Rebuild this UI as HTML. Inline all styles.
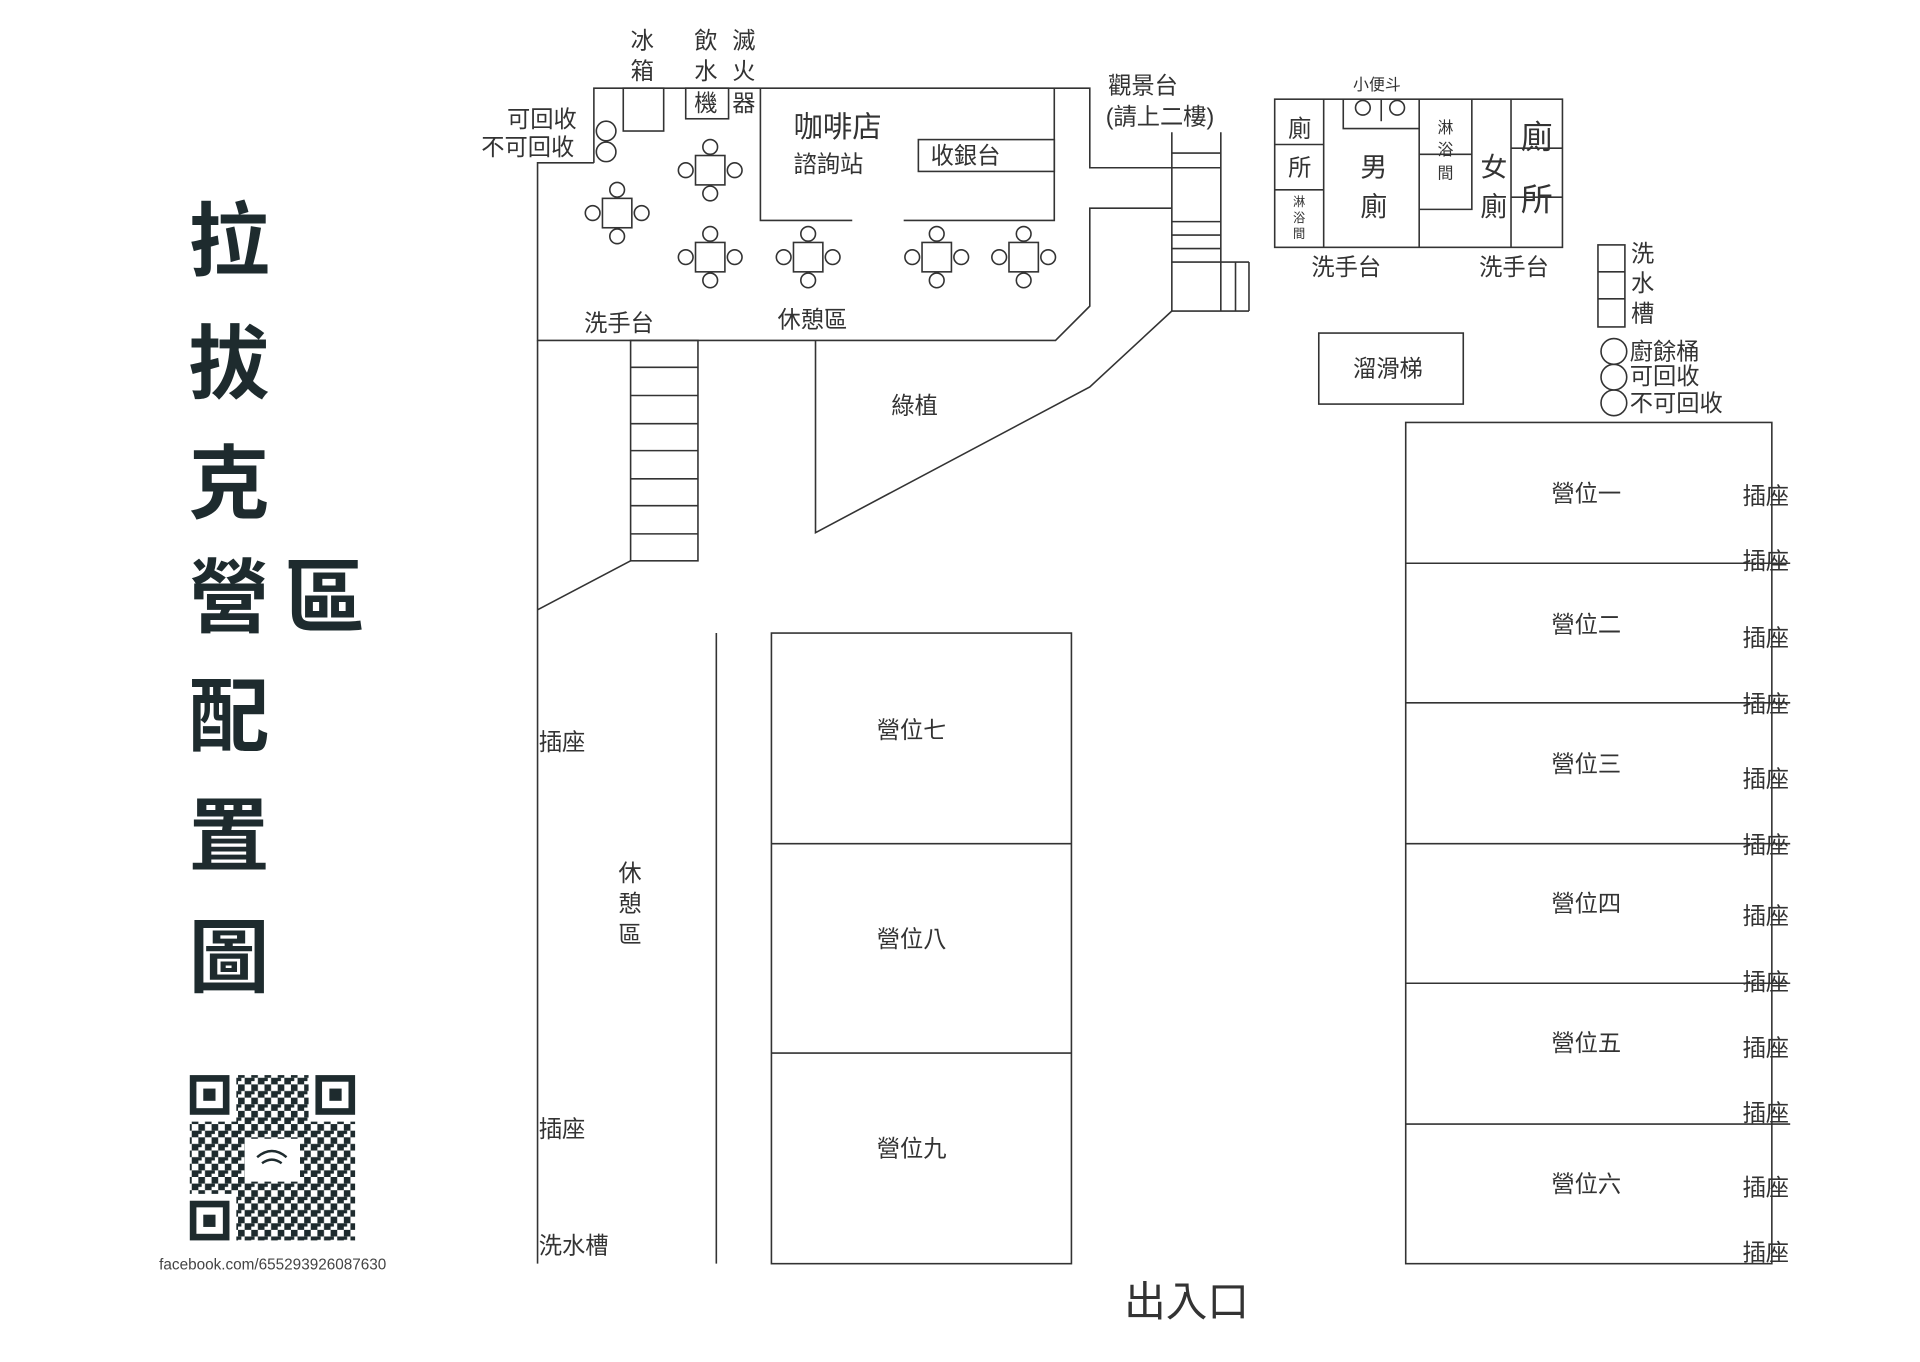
<!DOCTYPE html>
<html><head><meta charset="utf-8"><style>
html,body{margin:0;padding:0;background:#fff;}
svg{display:block}
text{font-family:"Liberation Sans","Noto Sans CJK TC",sans-serif;fill:#333;dominant-baseline:central;}
.t{font-family:"WenQuanYi Zen Hei","Noto Sans CJK TC",sans-serif;font-weight:bold;fill:#1e2b2e;font-size:66px;text-anchor:middle}
</style></head><body>
<svg width="1920" height="1362" viewBox="0 0 1568 1112.3" preserveAspectRatio="none" xmlns="http://www.w3.org/2000/svg">
<defs>
<pattern id="qr" width="10.8" height="10.8" patternUnits="userSpaceOnUse">
<rect x="0" y="0" width="5.4" height="5.4" fill="#1e2b2e"/><rect x="5.4" y="5.4" width="5.4" height="5.4" fill="#1e2b2e"/><rect x="0" y="5.4" width="2.7" height="2.7" fill="#1e2b2e"/>
</pattern>
</defs>
<!-- title -->
<text class="t" x="187" y="192">拉</text>
<text class="t" x="187" y="292">拔</text>
<text class="t" x="187" y="390">克</text>
<text class="t" x="187" y="483">營</text>
<text class="t" x="265" y="483">區</text>
<text class="t" x="187" y="580">配</text>
<text class="t" x="187" y="678">置</text>
<text class="t" x="187" y="777">圖</text>
<!-- QR -->
<rect x="155" y="878" width="135" height="135" fill="url(#qr)"/>
<g fill="#fff"><rect x="153" y="876" width="40" height="40"/><rect x="252" y="876" width="40" height="40"/><rect x="153" y="975" width="40" height="40"/><rect x="200" y="930" width="45" height="35"/></g>
<g fill="none" stroke="#1e2b2e" stroke-width="5.4"><rect x="157.7" y="880.7" width="27" height="27"/><rect x="260.3" y="880.7" width="27" height="27"/><rect x="157.7" y="983.3" width="27" height="27"/></g>
<g fill="#1e2b2e"><rect x="166" y="889" width="10" height="10"/><rect x="269" y="889" width="10" height="10"/><rect x="166" y="992" width="10" height="10"/></g>
<path d="M210 945 q12 -10 24 0 M214 950 q8 -6 16 0" stroke="#1e2b2e" stroke-width="2" fill="none"/>
<text x="130" y="1033" style="font-size:12.5px;fill:#444">facebook.com/655293926087630</text>

<g stroke="#333" stroke-width="1.3" fill="none">
<!-- building outline -->
<polyline points="485,133 485,72 890,72 890,137 997,137"/>
<polyline points="485,133 439,133 439,278 862,278 890,250 890,170 957,170"/>
<line x1="957" y1="108" x2="957" y2="254"/><line x1="997" y1="108" x2="997" y2="254"/>
<line x1="957" y1="125" x2="997" y2="125"/>
<line x1="957" y1="181" x2="997" y2="181"/><line x1="957" y1="192" x2="997" y2="192"/><line x1="957" y1="203" x2="997" y2="203"/><line x1="957" y1="214" x2="1020" y2="214"/>
<line x1="957" y1="254" x2="1020" y2="254"/><line x1="1020" y1="214" x2="1020" y2="254"/><line x1="1009" y1="214" x2="1009" y2="254"/>
<polyline points="957,254 890,316 666,435 666,278"/>
<!-- coffee shop -->
<polyline points="621,72 621,180 696,180"/><polyline points="738,180 861,180 861,72"/>
<rect x="750" y="114" width="111" height="26"/>
<rect x="560" y="72" width="35" height="25"/>
<rect x="509" y="72" width="33" height="35"/>
<circle cx="495" cy="107" r="8"/><circle cx="495" cy="124" r="8"/>
<!-- stairs -->
<rect x="515" y="278" width="55" height="180"/>
<line x1="515" y1="300" x2="570" y2="300"/><line x1="515" y1="323" x2="570" y2="323"/><line x1="515" y1="346" x2="570" y2="346"/><line x1="515" y1="368" x2="570" y2="368"/><line x1="515" y1="391" x2="570" y2="391"/><line x1="515" y1="413" x2="570" y2="413"/><line x1="515" y1="436" x2="570" y2="436"/>
<line x1="515" y1="458" x2="439" y2="498"/>
<line x1="439" y1="278" x2="439" y2="1032"/>
<line x1="585" y1="517" x2="585" y2="1032"/>
<!-- middle sites -->
<rect x="630" y="517" width="245" height="515"/>
<line x1="630" y1="689" x2="875" y2="689"/><line x1="630" y1="860" x2="875" y2="860"/>
<!-- right sites -->
<rect x="1148" y="345" width="299" height="687"/>
<line x1="1148" y1="460" x2="1462" y2="460"/><line x1="1148" y1="574" x2="1462" y2="574"/><line x1="1148" y1="689" x2="1462" y2="689"/><line x1="1148" y1="803" x2="1462" y2="803"/><line x1="1148" y1="918" x2="1462" y2="918"/>
<!-- toilets -->
<rect x="1041" y="81" width="235" height="121"/>
<line x1="1081" y1="81" x2="1081" y2="202"/><line x1="1041" y1="118" x2="1081" y2="118"/><line x1="1041" y1="155" x2="1081" y2="155"/>
<polyline points="1097,81 1097,105 1159,105"/>
<circle cx="1113" cy="88" r="6"/><circle cx="1141" cy="88" r="6"/><line x1="1128" y1="81" x2="1128" y2="99"/>
<line x1="1159" y1="81" x2="1159" y2="202"/>
<polyline points="1202,81 1202,171 1159,171"/><line x1="1159" y1="126" x2="1202" y2="126"/>
<line x1="1234" y1="81" x2="1234" y2="202"/><line x1="1234" y1="121" x2="1276" y2="121"/><line x1="1234" y1="161" x2="1276" y2="161"/>
<!-- sink -->
<rect x="1305" y="200" width="22" height="67"/><line x1="1305" y1="222" x2="1327" y2="222"/><line x1="1305" y1="244" x2="1327" y2="244"/>
<circle cx="1318" cy="287" r="10.5"/><circle cx="1318" cy="308" r="10.5"/><circle cx="1318" cy="329" r="10.5"/>
<rect x="1077" y="272" width="118" height="58"/>
</g>
<!-- tables -->
<g stroke="#333" stroke-width="1.3" fill="#fff" id="tb">
<g transform="translate(580,139)"><rect x="-12" y="-12" width="24" height="24"/><circle cx="0" cy="-19" r="6"/><circle cx="0" cy="19" r="6"/><circle cx="-20" cy="0" r="6"/><circle cx="20" cy="0" r="6"/></g>
<g transform="translate(504,174)"><rect x="-12" y="-12" width="24" height="24"/><circle cx="0" cy="-19" r="6"/><circle cx="0" cy="19" r="6"/><circle cx="-20" cy="0" r="6"/><circle cx="20" cy="0" r="6"/></g>
<g transform="translate(580,210)"><rect x="-12" y="-12" width="24" height="24"/><circle cx="0" cy="-19" r="6"/><circle cx="0" cy="19" r="6"/><circle cx="-20" cy="0" r="6"/><circle cx="20" cy="0" r="6"/></g>
<g transform="translate(660,210)"><rect x="-12" y="-12" width="24" height="24"/><circle cx="0" cy="-19" r="6"/><circle cx="0" cy="19" r="6"/><circle cx="-20" cy="0" r="6"/><circle cx="20" cy="0" r="6"/></g>
<g transform="translate(765,210)"><rect x="-12" y="-12" width="24" height="24"/><circle cx="0" cy="-19" r="6"/><circle cx="0" cy="19" r="6"/><circle cx="-20" cy="0" r="6"/><circle cx="20" cy="0" r="6"/></g>
<g transform="translate(836,210)"><rect x="-12" y="-12" width="24" height="24"/><circle cx="0" cy="-19" r="6"/><circle cx="0" cy="19" r="6"/><circle cx="-20" cy="0" r="6"/><circle cx="20" cy="0" r="6"/></g>
</g>
<!-- labels -->
<g style="font-size:19px">
<text x="515" y="33">冰</text><text x="515" y="58">箱</text>
<text x="567" y="33">飲</text><text x="567" y="58">水</text><text x="567" y="84">機</text>
<text x="598" y="33">滅</text><text x="598" y="58">火</text><text x="598" y="84">器</text>
<text x="414" y="97">可回收</text><text x="393" y="120">不可回收</text>
<text x="648" y="104" style="font-size:24px">咖啡店</text>
<text x="648" y="134">諮詢站</text>
<text x="760" y="127">收銀台</text>
<text x="477" y="264">洗手台</text>
<text x="635" y="261">休憩區</text>
<text x="728" y="331">綠植</text>
<text x="905" y="70">觀景台</text><text x="903" y="95">(請上二樓)</text>
<text x="1105" y="70" style="font-size:13px">小便斗</text>
<text x="1052" y="105">廁</text><text x="1052" y="137">所</text>
<text x="1056" y="165" style="font-size:10px">淋</text><text x="1056" y="178" style="font-size:10px">浴</text><text x="1056" y="191" style="font-size:10px">間</text>
<text x="1111" y="137" style="font-size:22px">男</text><text x="1111" y="169" style="font-size:22px">廁</text>
<text x="1174" y="105" style="font-size:13px">淋</text><text x="1174" y="123" style="font-size:13px">浴</text><text x="1174" y="142" style="font-size:13px">間</text>
<text x="1209" y="137" style="font-size:22px">女</text><text x="1209" y="169" style="font-size:22px">廁</text>
<text x="1242" y="112" style="font-size:26px">廁</text><text x="1242" y="163" style="font-size:26px">所</text>
<text x="1071" y="218">洗手台</text><text x="1208" y="218">洗手台</text>
<text x="1332" y="207">洗</text><text x="1332" y="231">水</text><text x="1332" y="256">槽</text>
<text x="1331" y="287">廚餘桶</text><text x="1331" y="307">可回收</text><text x="1331" y="329">不可回收</text>
<text x="1105" y="301">溜滑梯</text>
<text x="1267" y="403">營位一</text><text x="1267" y="510">營位二</text><text x="1267" y="624">營位三</text><text x="1267" y="738">營位四</text><text x="1267" y="852">營位五</text><text x="1267" y="967">營位六</text>
<text x="716" y="596">營位七</text><text x="716" y="767">營位八</text><text x="716" y="938">營位九</text>
<text x="1423" y="405">插座</text><text x="1423" y="458">插座</text><text x="1423" y="521">插座</text><text x="1423" y="575">插座</text><text x="1423" y="636">插座</text><text x="1423" y="690">插座</text><text x="1423" y="748">插座</text><text x="1423" y="802">插座</text><text x="1423" y="856">插座</text><text x="1423" y="909">插座</text><text x="1423" y="970">插座</text><text x="1423" y="1023">插座</text>
<text x="440" y="606">插座</text><text x="440" y="922">插座</text><text x="440" y="1017">洗水槽</text>
<text x="505" y="713">休</text><text x="505" y="738">憩</text><text x="505" y="763">區</text>
<text x="918" y="1063" style="font-size:34px">出入口</text>
</g>
</svg>
</body></html>
